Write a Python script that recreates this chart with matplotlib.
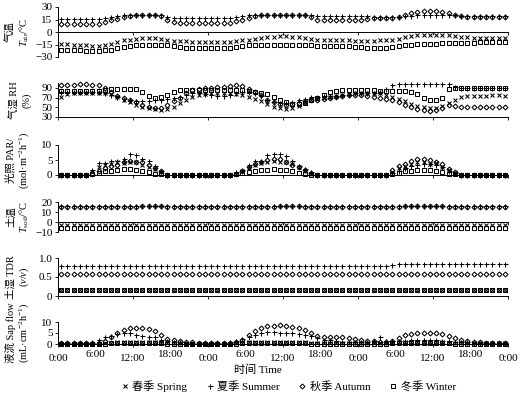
import numpy as np
import matplotlib
matplotlib.use("Agg")
import matplotlib.pyplot as plt

plt.rcParams['font.family'] = ['Liberation Serif', 'Noto Sans CJK SC']
plt.rcParams['mathtext.fontset'] = 'custom'
plt.rcParams['mathtext.rm'] = 'Liberation Serif'
plt.rcParams['mathtext.it'] = 'Liberation Serif:italic'
plt.rcParams['font.size'] = 8

# hourly observations over three days (hour 0..71)
hours = np.arange(72) + 0.5
seasons = ['春季 Spring', '夏季 Summer', '秋季 Autumn', '冬季 Winter']

# air temperature (°C)
tair_spring = [-14, -14, -15, -15, -16, -17, -17, -16, -14, -12, -10, -9, -8, -7, -7, -7, -8,
               -10, -11, -11, -11, -12, -12, -12, -12, -12, -12, -12, -11, -10, -9, -8,
               -7, -6, -6, -5, -5, -6, -6, -7, -8, -9, -9, -10, -10, -10, -10, -11,
               -11, -11, -11, -10, -10, -9, -8, -6, -5, -4, -4, -3, -3, -4, -4, -5,
               -6, -6, -7, -7, -7, -7, -7, -7]
tair_summer = [16, 16, 16, 16, 16, 16, 16, 17, 18, 19, 20, 20, 21, 21, 21, 21, 20,
               18, 17, 17, 17, 17, 17, 17, 17, 17, 17, 17, 18, 19, 20, 21,
               21, 21, 21, 21, 21, 21, 21, 21, 20, 19, 19, 19, 19, 19, 19, 19,
               19, 19, 18, 18, 18, 18, 18, 19, 19, 20, 20, 20, 20, 20, 20, 20,
               19, 19, 19, 19, 19, 19, 19, 19]
tair_autumn = [10, 10, 10, 10, 10, 10, 10, 12, 14, 16, 18, 19, 20, 20, 20, 20, 19,
               14, 12, 11, 11, 11, 11, 11, 11, 11, 11, 11, 13, 15, 17, 19,
               20, 20, 20, 20, 20, 20, 20, 20, 18, 15, 15, 15, 15, 15, 15, 15,
               15, 16, 17, 17, 17, 17, 18, 21, 23, 24, 25, 25, 25, 24, 23, 21,
               19, 18, 18, 18, 18, 18, 18, 18]
tair_winter = [-21, -21, -22, -22, -23, -23, -23, -22, -21, -19, -18, -17, -16, -15, -15, -15, -15,
               -16, -17, -18, -19, -19, -19, -19, -19, -19, -19, -19, -18, -17, -16, -16,
               -15, -15, -15, -15, -15, -15, -15, -16, -16, -17, -17, -17, -17, -17, -17, -18,
               -18, -19, -19, -19, -19, -18, -17, -16, -15, -14, -14, -14, -14, -13, -13, -13,
               -13, -13, -13, -12, -12, -12, -12, -12]

# relative humidity (%)
rh_spring = [72, 78, 80, 80, 80, 80, 80, 80, 78, 72, 66, 60, 55, 50, 48, 46, 45,
             46, 50, 58, 66, 72, 76, 78, 80, 80, 80, 80, 78, 76, 72, 68,
             62, 56, 50, 48, 47, 48, 52, 58, 64, 68, 70, 72, 74, 76, 78, 80,
             80, 80, 80, 79, 76, 72, 68, 62, 56, 52, 50, 49, 48, 52, 58, 66,
             72, 74, 74, 74, 74, 75, 75, 74]
rh_summer = [82, 82, 82, 82, 82, 82, 82, 80, 75, 72, 68, 64, 62, 62, 63, 64, 65,
             68, 70, 72, 76, 80, 80, 78, 76, 74, 74, 76, 80, 82, 82, 80,
             74, 66, 60, 58, 58, 60, 64, 68, 72, 72, 73, 74, 74, 75, 76, 80,
             80, 80, 80, 82, 88, 96, 98, 98, 98, 98, 98, 98, 98, 98, 97, 92,
             90, 90, 90, 90, 90, 90, 90, 90]
rh_autumn = [96, 96, 96, 97, 97, 96, 96, 90, 82, 74, 70, 66, 60, 54, 50, 49, 48,
             55, 62, 70, 80, 86, 88, 90, 90, 91, 92, 94, 96, 94, 88, 82,
             76, 66, 60, 56, 55, 56, 58, 62, 64, 66, 68, 70, 72, 74, 76, 76,
             75, 74, 72, 70, 68, 64, 60, 55, 50, 46, 44, 43, 44, 48, 54, 52,
             50, 50, 50, 50, 50, 51, 51, 51]
rh_winter = [84, 84, 84, 84, 84, 84, 84, 86, 87, 88, 88, 88, 87, 82, 74, 70, 71,
             76, 82, 85, 86, 86, 86, 86, 85, 85, 85, 85, 85, 85, 84, 82,
             80, 78, 72, 66, 60, 57, 56, 58, 64, 70, 76, 82, 84, 85, 85, 85,
             85, 85, 85, 84, 84, 84, 84, 84, 82, 78, 70, 66, 66, 70, 88, 90,
             90, 90, 90, 90, 90, 90, 90, 90]

# PAR (mol m-2 h-1)
par_spring = [0, 0, 0, 0, 0, 1.0, 2.8, 3.3, 3.6, 4.2, 4.0, 4.4, 4.2, 3.3, 2.8, 2.0, 1.0,
              0, 0, 0, 0, 0, 0, 0, 0, 0, 0, 0,
              0.5, 1.5, 2.5, 3.5, 4.0, 4.5, 4.8, 4.5, 4.2, 3.6, 2.8, 1.5, 0.5,
              0, 0, 0, 0, 0, 0, 0, 0, 0, 0, 0, 0,
              1.0, 2.5, 3.1, 3.6, 4.2, 4.2, 3.6, 4.0, 2.8, 1.8, 0.8,
              0, 0, 0, 0, 0, 0, 0, 0]
par_summer = [0, 0, 0, 0, 0, 1.8, 3.9, 4.0, 4.6, 4.8, 5.3, 7.0, 6.6, 5.3, 4.8, 3.1, 1.5,
              0, 0, 0, 0, 0, 0, 0, 0, 0, 0, 0,
              1.0, 1.8, 3.4, 4.6, 4.8, 6.6, 7.0, 7.0, 6.2, 4.8, 3.1, 2.0, 1.0,
              0, 0, 0, 0, 0, 0, 0, 0, 0, 0, 0, 0,
              0.8, 1.5, 2.3, 3.0, 3.5, 3.8, 3.6, 3.2, 2.6, 1.5, 0.6,
              0, 0, 0, 0, 0, 0, 0, 0]
par_autumn = [0, 0, 0, 0, 0, 0.5, 1.5, 2.5, 3.0, 3.5, 4.3, 4.6, 4.5, 4.2, 3.5, 2.5, 1.2,
              0, 0, 0, 0, 0, 0, 0, 0, 0, 0, 0,
              0.5, 1.5, 2.8, 3.8, 4.2, 5.0, 5.5, 5.3, 4.2, 3.5, 2.7, 1.6, 0.8,
              0, 0, 0, 0, 0, 0, 0, 0, 0, 0, 0, 0,
              1.6, 3.1, 3.6, 4.6, 5.2, 5.4, 5.0, 4.2, 3.6, 2.1, 1.0,
              0, 0, 0, 0, 0, 0, 0, 0]
par_winter = [0, 0, 0, 0, 0, 0.2, 0.8, 1.2, 1.5, 1.8, 2.0, 2.0, 1.8, 1.5, 1.0, 0.5, 0.2,
              0, 0, 0, 0, 0, 0, 0, 0, 0, 0, 0,
              0.2, 0.6, 1.0, 1.4, 1.6, 1.8, 2.0, 1.8, 1.6, 1.2, 0.8, 0.4, 0.1,
              0, 0, 0, 0, 0, 0, 0, 0, 0, 0, 0, 0,
              0.3, 0.8, 1.2, 1.5, 1.7, 1.8, 1.6, 1.5, 1.0, 0.5, 0.2,
              0, 0, 0, 0, 0, 0, 0, 0]

# soil temperature (°C)
tsoil_spring = [-3.0, -3.0, -3.1, -3.1, -3.2, -3.2, -3.2, -3.2, -3.1, -3.0, -3.0, -2.9,
                -2.8, -2.8, -2.7, -2.7, -2.7, -2.8, -2.8, -2.9, -2.9, -3.0, -3.0, -3.0,
                -3.0, -3.0, -3.1, -3.1, -3.1, -3.1, -3.0, -3.0, -2.9, -2.8, -2.8, -2.7,
                -2.7, -2.7, -2.7, -2.8, -2.8, -2.9, -2.9, -2.9, -3.0, -3.0, -3.0, -3.0,
                -3.0, -3.0, -3.0, -3.0, -2.9, -2.9, -2.8, -2.7, -2.6, -2.6, -2.6, -2.6,
                -2.6, -2.7, -2.7, -2.8, -2.8, -2.8, -2.8, -2.8, -2.8, -2.8, -2.8, -2.8]
tsoil_summer = [16.0, 16.0, 15.9, 15.9, 15.8, 15.8, 15.8, 15.8, 15.9, 16.0, 16.1, 16.2,
                16.3, 16.4, 16.5, 16.5, 16.5, 16.4, 16.3, 16.2, 16.1, 16.1, 16.0, 16.0,
                16.0, 15.9, 15.9, 15.8, 15.8, 15.8, 15.9, 16.0, 16.1, 16.2, 16.3, 16.4,
                16.5, 16.5, 16.4, 16.3, 16.2, 16.1, 16.1, 16.0, 16.0, 16.0, 15.9, 15.9,
                15.9, 15.9, 15.9, 16.0, 16.0, 16.1, 16.2, 16.3, 16.4, 16.5, 16.5, 16.5,
                16.4, 16.3, 16.2, 16.2, 16.1, 16.1, 16.0, 16.0, 16.0, 16.0, 16.0, 16.0]
tsoil_autumn = [14.8, 14.8, 14.7, 14.7, 14.6, 14.6, 14.6, 14.6, 14.7, 14.8, 15.0, 15.2,
                15.4, 15.6, 15.7, 15.7, 15.6, 15.5, 15.3, 15.1, 15.0, 14.9, 14.8, 14.8,
                14.7, 14.7, 14.6, 14.6, 14.6, 14.6, 14.7, 14.9, 15.1, 15.3, 15.5, 15.6,
                15.7, 15.7, 15.6, 15.4, 15.2, 15.1, 15.0, 14.9, 14.9, 14.8, 14.8, 14.8,
                14.8, 14.8, 14.8, 14.9, 15.0, 15.2, 15.4, 15.6, 15.8, 15.9, 15.9, 15.8,
                15.7, 15.6, 15.5, 15.4, 15.3, 15.2, 15.2, 15.1, 15.1, 15.1, 15.1, 15.1]
tsoil_winter = [-5.8, -5.8, -5.9, -5.9, -6.0, -6.0, -6.0, -6.0, -6.0, -5.9, -5.9, -5.8,
                -5.8, -5.7, -5.7, -5.7, -5.7, -5.7, -5.8, -5.8, -5.8, -5.9, -5.9, -5.9,
                -5.9, -6.0, -6.0, -6.0, -6.0, -6.0, -6.0, -5.9, -5.9, -5.8, -5.8, -5.7,
                -5.7, -5.7, -5.7, -5.7, -5.8, -5.8, -5.8, -5.8, -5.9, -5.9, -5.9, -5.9,
                -5.9, -5.9, -5.9, -5.9, -5.8, -5.8, -5.7, -5.7, -5.6, -5.6, -5.6, -5.6,
                -5.6, -5.6, -5.6, -5.6, -5.6, -5.6, -5.6, -5.6, -5.6, -5.6, -5.6, -5.6]

# soil moisture TDR (v/v)
tdr_spring = [0.15, 0.15, 0.15, 0.15, 0.15, 0.15, 0.15, 0.15, 0.15, 0.15, 0.15, 0.15,
              0.15, 0.15, 0.15, 0.15, 0.15, 0.15, 0.15, 0.15, 0.15, 0.15, 0.15, 0.15,
              0.15, 0.15, 0.15, 0.15, 0.15, 0.15, 0.15, 0.15, 0.15, 0.15, 0.15, 0.15,
              0.15, 0.15, 0.15, 0.15, 0.15, 0.15, 0.15, 0.15, 0.15, 0.15, 0.15, 0.15,
              0.15, 0.15, 0.15, 0.15, 0.15, 0.15, 0.15, 0.15, 0.15, 0.15, 0.15, 0.15,
              0.15, 0.15, 0.15, 0.15, 0.15, 0.15, 0.15, 0.15, 0.15, 0.15, 0.15, 0.15]
tdr_summer = [0.78, 0.78, 0.78, 0.78, 0.78, 0.78, 0.78, 0.78, 0.78, 0.78, 0.78, 0.78,
              0.78, 0.78, 0.78, 0.78, 0.78, 0.78, 0.78, 0.78, 0.78, 0.78, 0.78, 0.78,
              0.78, 0.78, 0.78, 0.78, 0.78, 0.78, 0.78, 0.78, 0.78, 0.78, 0.78, 0.78,
              0.78, 0.78, 0.78, 0.78, 0.78, 0.78, 0.78, 0.78, 0.78, 0.78, 0.78, 0.78,
              0.78, 0.78, 0.78, 0.78, 0.80, 0.82, 0.84, 0.85, 0.85, 0.85, 0.85, 0.85,
              0.85, 0.85, 0.85, 0.85, 0.85, 0.85, 0.85, 0.85, 0.85, 0.85, 0.85, 0.85]
tdr_autumn = [0.58, 0.58, 0.58, 0.58, 0.58, 0.58, 0.58, 0.58, 0.58, 0.58, 0.58, 0.58,
              0.58, 0.58, 0.58, 0.58, 0.58, 0.58, 0.58, 0.58, 0.58, 0.58, 0.58, 0.58,
              0.58, 0.58, 0.58, 0.58, 0.58, 0.58, 0.58, 0.58, 0.58, 0.58, 0.58, 0.58,
              0.58, 0.58, 0.58, 0.58, 0.58, 0.58, 0.58, 0.58, 0.58, 0.58, 0.58, 0.58,
              0.58, 0.58, 0.58, 0.58, 0.58, 0.58, 0.58, 0.58, 0.58, 0.58, 0.58, 0.58,
              0.58, 0.58, 0.58, 0.58, 0.58, 0.58, 0.58, 0.58, 0.58, 0.58, 0.58, 0.58]
tdr_winter = [0.17, 0.17, 0.17, 0.17, 0.17, 0.17, 0.17, 0.17, 0.17, 0.17, 0.17, 0.17,
              0.17, 0.17, 0.17, 0.17, 0.17, 0.17, 0.17, 0.17, 0.17, 0.17, 0.17, 0.17,
              0.17, 0.17, 0.17, 0.17, 0.17, 0.17, 0.17, 0.17, 0.17, 0.17, 0.17, 0.17,
              0.17, 0.17, 0.17, 0.17, 0.17, 0.17, 0.17, 0.17, 0.17, 0.17, 0.17, 0.17,
              0.17, 0.17, 0.17, 0.17, 0.17, 0.17, 0.17, 0.17, 0.17, 0.17, 0.17, 0.17,
              0.17, 0.17, 0.17, 0.17, 0.17, 0.17, 0.17, 0.17, 0.17, 0.17, 0.17, 0.17]

# sap flow (mL cm-2 h-1)
sap_spring = [0.2, 0.2, 0.2, 0.2, 0.2, 0.2, 0.2, 0.3, 0.5, 0.7, 0.9, 1.0, 1.0, 1.0, 0.9, 0.8,
              0.6, 0.5, 0.4, 0.3, 0.2, 0.2, 0.2, 0.2, 0.2, 0.2, 0.2, 0.2, 0.3, 0.5, 0.7, 0.9,
              1.0, 1.1, 1.1, 1.0, 1.0, 0.9, 0.8, 0.7, 0.6, 0.5, 0.4, 0.3, 0.3, 0.3, 0.3, 0.3,
              0.3, 0.3, 0.3, 0.3, 0.4, 0.5, 0.7, 0.8, 0.9, 1.0, 1.0, 0.9, 0.8, 0.7, 0.6, 0.5,
              0.4, 0.3, 0.3, 0.3, 0.3, 0.3, 0.3, 0.3]
sap_summer = [0.5, 0.5, 0.5, 0.5, 0.5, 0.5, 2.0, 3.0, 3.8, 4.6, 5.1, 5.0, 4.2, 3.8, 3.4, 3.0,
              2.0, 1.5, 1.0, 0.8, 0.6, 0.6, 0.5, 0.5, 0.5, 0.5, 0.6, 0.8, 1.5, 2.5, 3.2, 4.0,
              5.2, 5.6, 5.6, 5.2, 5.0, 4.8, 4.6, 4.0, 3.6, 2.6, 2.0, 1.6, 1.2, 1.0, 0.8, 0.8,
              0.8, 1.0, 1.5, 3.0, 1.5, 1.2, 1.2, 1.5, 1.8, 2.0, 2.0, 1.8, 1.6, 1.4, 1.2, 1.0,
              0.8, 0.8, 0.6, 0.6, 0.6, 0.5, 0.5, 0.5]
sap_autumn = [0.3, 0.3, 0.3, 0.3, 0.3, 0.3, 0.5, 1.2, 3.0, 5.0, 6.5, 7.2, 7.4, 7.2, 6.8, 5.8,
              4.0, 2.4, 1.6, 1.2, 1.0, 0.8, 0.6, 0.5, 0.5, 0.5, 0.5, 0.6, 0.8, 2.0, 4.0, 6.0,
              7.2, 8.0, 8.4, 8.5, 8.2, 7.8, 7.2, 6.4, 5.2, 3.8, 3.4, 3.2, 3.2, 3.0, 2.6, 2.2,
              1.8, 1.5, 1.2, 1.0, 1.0, 1.5, 2.8, 4.0, 4.7, 5.0, 5.1, 5.0, 4.8, 4.4, 3.6, 2.6,
              1.8, 1.4, 1.0, 0.8, 0.6, 0.5, 0.5, 0.5]
sap_winter = [0.2, 0.2, 0.2, 0.2, 0.2, 0.2, 0.2, 0.2, 0.3, 0.3, 0.4, 0.4, 0.4, 0.4, 0.4, 0.3,
              0.3, 0.2, 0.2, 0.2, 0.2, 0.2, 0.2, 0.2, 0.2, 0.2, 0.2, 0.2, 0.2, 0.3, 0.3, 0.4,
              0.4, 0.4, 0.4, 0.4, 0.4, 0.3, 0.3, 0.3, 0.2, 0.2, 0.2, 0.2, 0.2, 0.2, 0.2, 0.2,
              0.2, 0.2, 0.2, 0.2, 0.2, 0.3, 0.3, 0.4, 0.4, 0.4, 0.4, 0.4, 0.3, 0.3, 0.3, 0.2,
              0.2, 0.2, 0.2, 0.2, 0.2, 0.2, 0.2, 0.2]

panels = [
    ([tair_spring, tair_summer, tair_autumn, tair_winter],
     '气温\n$T_{\\rm air}$/°C', (-30, 30), [-30, -15, 0, 15, 30], ['−30', '−15', '0', '15', '30'], 0),
    ([rh_spring, rh_summer, rh_autumn, rh_winter],
     '气湿 RH\n(%)', (30, 100), [30, 50, 70, 90], ['30', '50', '70', '90'], 30),
    ([par_spring, par_summer, par_autumn, par_winter],
     '光照 PAR/\n(mol·m$^{-2}$h$^{-1}$)', (0, 10), [0, 5, 10], ['0', '5', '10'], 0),
    ([tsoil_spring, tsoil_summer, tsoil_autumn, tsoil_winter],
     '土温\n$T_{\\rm soil}$/°C', (-10, 20), [-10, 0, 10, 20], ['−10', '0', '10', '20'], 0),
    ([tdr_spring, tdr_summer, tdr_autumn, tdr_winter],
     '土湿 TDR\n($v$/$v$)', (0, 1.0), [0, 0.5, 1.0], ['0', '0.5', '1.0'], 0),
    ([sap_spring, sap_summer, sap_autumn, sap_winter],
     '液流 Sap flow\n(mL·cm$^{-2}$h$^{-1}$)', (0, 10), [0, 5, 10], ['0', '5', '10'], 0),
]

# pixel extents (top, bottom) of each panel in the 523x399 figure
extents = [(7, 57), (83, 117), (145, 175), (202, 232), (258, 296), (322, 344)]

styles = [
    dict(marker='x', ms=3.0, mew=0.75),
    dict(marker='+', ms=3.6, mew=0.75),
    dict(marker='D', ms=2.5, mew=0.75, mfc='none'),
    dict(marker='s', ms=2.9, mew=0.75, mfc='none'),
]

W, H = 523, 399
fig = plt.figure(figsize=(W / 100, H / 100), dpi=100)
x0, x1 = 58, 508

handles = []
for i, (series, ylabel, ylim, yt, ytl, base) in enumerate(panels):
    top, bot = extents[i]
    ax = fig.add_axes([x0 / W, 1 - bot / H, (x1 - x0) / W, (bot - top) / H])
    for j in [3, 2, 1, 0]:
        ln, = ax.plot(hours, series[j], linestyle='none', color='black',
                      clip_on=False, label=seasons[j], **styles[j])
        if i == 0:
            handles.append(ln)
    ax.set_xlim(0, 72)
    ax.set_ylim(*ylim)
    ax.set_yticks(yt)
    ax.set_yticklabels(ytl)
    for s in ['top', 'right']:
        ax.spines[s].set_visible(False)
    ax.spines['bottom'].set_position(('data', base))
    ax.spines['left'].set_linewidth(0.7)
    ax.spines['bottom'].set_linewidth(0.7)
    ax.set_xticks(np.arange(0, 73, 12))
    ax.set_xticks(np.arange(6, 72, 12), minor=True)
    ax.tick_params(axis='both', which='major', direction='out', length=2.5, width=0.6,
                   labelsize=8, pad=1.5)
    ax.tick_params(axis='x', which='minor', length=0)
    if i == len(panels) - 1:
        ax.set_xticklabels(['0:00', '12:00', '0:00', '12:00', '0:00', '12:00', '0:00'])
        ax.set_xticklabels(['6:00', '18:00', '6:00', '18:00', '6:00', '18:00'], minor=True)
        ax.tick_params(axis='x', which='both', pad=4.5, labelsize=8)
    else:
        ax.set_xticklabels([])
    ax.set_ylabel(ylabel, fontsize=7.5, linespacing=1.15)
    ax.yaxis.set_label_coords(-0.06, 0.5)

fig.text(258 / W, 1 - 370 / H, '时间 Time', ha='center', va='center', fontsize=8)
handles = handles[::-1]
fig.legend(handles, [h.get_label() for h in handles], loc='center',
           bbox_to_anchor=(288 / W, 1 - 386 / H), ncol=4, frameon=False,
           fontsize=8, handlelength=0.8, handletextpad=0.3, columnspacing=1.6)

fig.savefig('out.png', dpi=100)
